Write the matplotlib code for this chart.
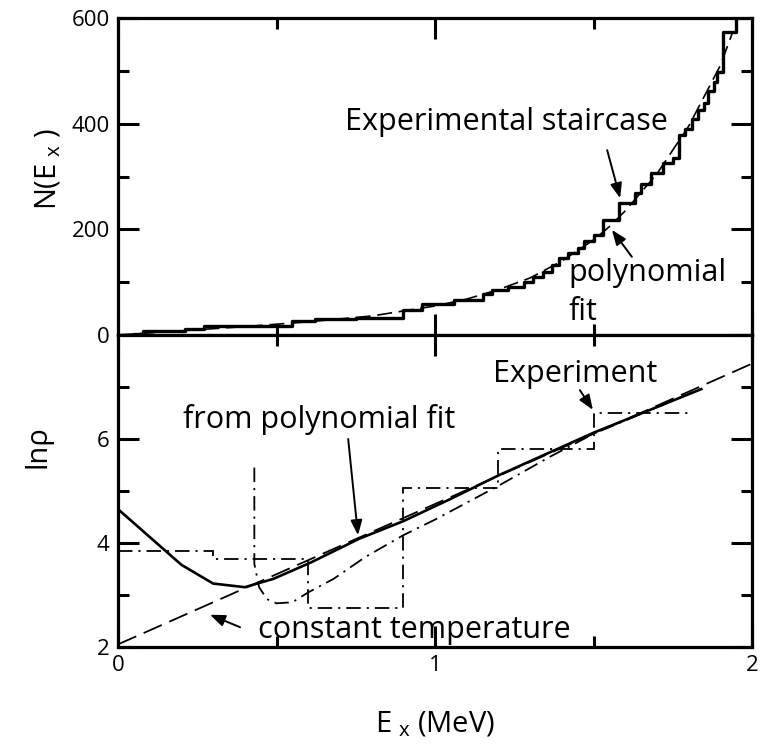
import numpy as np
import matplotlib.pyplot as plt
from matplotlib.ticker import MultipleLocator

plt.rcParams['font.family'] = ['Open Sans', 'DejaVu Sans']
plt.rcParams['mathtext.default'] = 'regular'

### Level counting: experimental staircase N(Ex), steps at (energy, count)
stair_E = [0.00, 0.05, 0.08, 0.21, 0.27, 0.55, 0.62, 0.75, 0.90, 0.96, 1.06,
           1.15, 1.18, 1.23, 1.28, 1.31, 1.34, 1.37, 1.39, 1.42, 1.45, 1.47,
           1.50, 1.53, 1.58, 1.63, 1.65, 1.68, 1.72, 1.75, 1.77, 1.79, 1.81,
           1.83, 1.85, 1.86, 1.88, 1.89, 1.91, 1.95]
stair_N = [0, 2, 7, 12, 17, 27, 30, 33, 47, 58, 67,
           77, 85, 91, 100, 110, 120, 132, 145, 155, 165, 178,
           190, 218, 250, 268, 285, 306, 325, 335, 378, 390, 408,
           426, 440, 462, 478, 498, 573, 610]

# polynomial fit to the staircase
fit_E = [0.0, 0.2, 0.4, 0.6, 0.8, 1.0, 1.1, 1.2, 1.3, 1.4, 1.5, 1.55, 1.6,
         1.7, 1.8, 1.9, 1.94]
fit_N = [0, 8, 16, 25, 36, 55, 68, 86, 108, 140, 180, 205, 235,
         305, 395, 510, 575]

### Level density ln(rho)
poly_E = [0.0, 0.2, 0.3, 0.4, 0.49, 0.61, 0.76, 0.90, 1.05, 1.20, 1.50, 1.84]
poly_lnrho = [4.65, 3.58, 3.22, 3.15, 3.31, 3.63, 4.08, 4.42, 4.85, 5.30,
              6.12, 6.96]

const_T_E = [0.0, 2.0]
const_T_lnrho = [2.05, 7.45]

# experimental histogram, 0.3 MeV bins
exp_edges = [0.0, 0.3, 0.6, 0.9, 1.2, 1.5, 1.8]
exp_lnrho = [3.85, 3.70, 2.75, 5.05, 5.80, 6.50]

# smoothed experimental curve
smooth_E = [0.43, 0.43, 0.445, 0.47, 0.50, 0.55, 0.60, 0.68, 0.78, 0.90,
            1.00, 1.20, 1.36, 1.50, 1.84]
smooth_lnrho = [5.45, 3.60, 3.15, 2.92, 2.84, 2.86, 3.05, 3.31, 3.73, 4.15,
                4.45, 5.10, 5.65, 6.10, 6.97]

fig = plt.figure(figsize=(7.63, 7.44), dpi=100)
ax1 = fig.add_axes([0.1547, 0.5497, 0.8309, 0.4261])
ax2 = fig.add_axes([0.1547, 0.1304, 0.8309, 0.4193])

arrow = dict(arrowstyle='-|>,head_length=0.9,head_width=0.35', color='k',
             lw=1.4, shrinkA=0, shrinkB=0)
fs = 22

# top panel
ax1.step(stair_E, stair_N, where='post', color='k', lw=2.4)
ax1.plot(fit_E, fit_N, color='k', lw=1.2, linestyle=(0, (9, 4)))
ax1.set_xlim(0, 2)
ax1.set_ylim(0, 600)
ax1.yaxis.set_major_locator(MultipleLocator(200))
ax1.yaxis.set_minor_locator(MultipleLocator(100))
ax1.set_xticklabels([])
ax1.set_ylabel(r'N(E$_{\ \mathregular{x}}$ )', fontsize=21)
ax1.yaxis.set_label_coords(-0.087, 0.524)

ax1.text(0.716, 403, 'Experimental staircase', fontsize=fs, va='center')
ax1.text(1.42, 117, 'polynomial', fontsize=fs, va='center')
ax1.text(1.42, 44, 'fit', fontsize=fs, va='center')
ax1.annotate('', xy=(1.584, 259), xytext=(1.543, 350), arrowprops=arrow)
ax1.annotate('', xy=(1.558, 199), xytext=(1.621, 148), arrowprops=arrow)

# bottom panel
ax2.plot(poly_E, poly_lnrho, color='k', lw=1.9)
ax2.plot(const_T_E, const_T_lnrho, color='k', lw=1.3, linestyle=(0, (11, 4.5)))
ax2.stairs(exp_lnrho, exp_edges, baseline=None, color='k', lw=1.3,
           linestyle=(0, (8, 3.3, 1.2, 3.3)))
ax2.plot(smooth_E, smooth_lnrho, color='k', lw=1.3,
         linestyle=(0, (8, 3.3, 1.2, 3.3)))
ax2.set_xlim(0, 2)
ax2.set_ylim(2, 8)
ax2.set_yticks([2, 4, 6])
ax2.yaxis.set_minor_locator(MultipleLocator(1))
ax2.set_ylabel('lnρ', fontsize=21)
ax2.yaxis.set_label_coords(-0.103, 0.641)
ax2.set_xlabel(r'E$_{\ \mathregular{x}}$ (MeV)', fontsize=21, labelpad=24)

ax2.text(0.205, 6.38, 'from polynomial fit', fontsize=fs, va='center')
ax2.text(1.183, 7.25, 'Experiment', fontsize=fs, va='center')
ax2.text(0.44, 2.33, 'constant temperature', fontsize=fs, va='center')
ax2.annotate('', xy=(0.757, 4.15), xytext=(0.726, 6.0), arrowprops=arrow)
ax2.annotate('', xy=(1.498, 6.56), xytext=(1.457, 6.94), arrowprops=arrow)
ax2.annotate('', xy=(0.29, 2.62), xytext=(0.385, 2.38), arrowprops=arrow)

for ax in (ax1, ax2):
    ax.xaxis.set_major_locator(MultipleLocator(1))
    ax.xaxis.set_minor_locator(MultipleLocator(0.5))
    ax.tick_params(which='both', direction='in', top=True, right=True,
                   width=2.2, labelsize=16, pad=6)
    ax.tick_params(which='major', length=15)
    ax.tick_params(which='minor', length=8)
    for sp in ax.spines.values():
        sp.set_linewidth(2.3)

fig.savefig('out.png', dpi=100)
